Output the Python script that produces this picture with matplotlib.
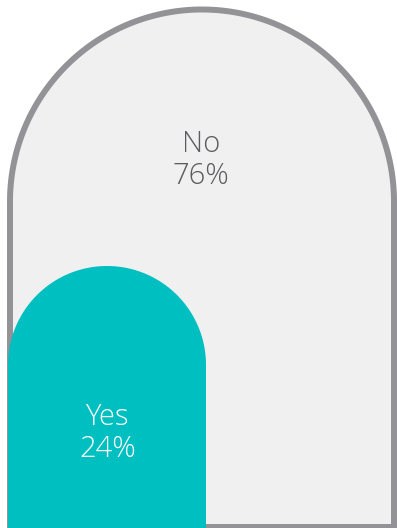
import numpy as np
import matplotlib
matplotlib.use("Agg")
import matplotlib.pyplot as plt
from matplotlib.patches import Polygon

categories = ["No", "Yes"]
values = [76, 24]

W, H = 397, 528
fig = plt.figure(figsize=(W / 100, H / 100), dpi=100)
ax = fig.add_axes([0, 0, 1, 1])
ax.set_xlim(0, W)
ax.set_ylim(H, 0)
ax.axis("off")


def arch_pts(x0, x1, ybot, ytop, n=200):
    r = (x1 - x0) / 2
    cx = (x0 + x1) / 2
    cy = ytop + r
    t = np.linspace(np.pi, 2 * np.pi, n)
    arc = np.column_stack([cx + r * np.cos(t), cy + r * np.sin(t)])
    pts = np.vstack([[x0, ybot], arc, [x1, ybot]])
    return pts


# big arch ("No")
big = arch_pts(10, 394, 527, 9.5)
ax.add_patch(Polygon(big, closed=True, facecolor="#f0f0f1",
                     edgecolor="#939397", linewidth=4.3, joinstyle="miter"))

# small arch ("Yes")
small = arch_pts(8, 206, 531, 266)
ax.add_patch(Polygon(small, closed=True, facecolor="#00bfc1",
                     edgecolor="none"))

fs = 21
ax.text(201, 160, f"{categories[0]}\n{values[0]}%", ha="center", va="center",
        fontsize=fs, color="#5c5c5f", family="Open Sans", fontweight=300,
        linespacing=1.12)
ax.text(108, 433, f"{categories[1]}\n{values[1]}%", ha="center", va="center",
        fontsize=fs, color="white", family="Open Sans", fontweight=300,
        linespacing=1.12)

fig.savefig("out.png", dpi=100)
